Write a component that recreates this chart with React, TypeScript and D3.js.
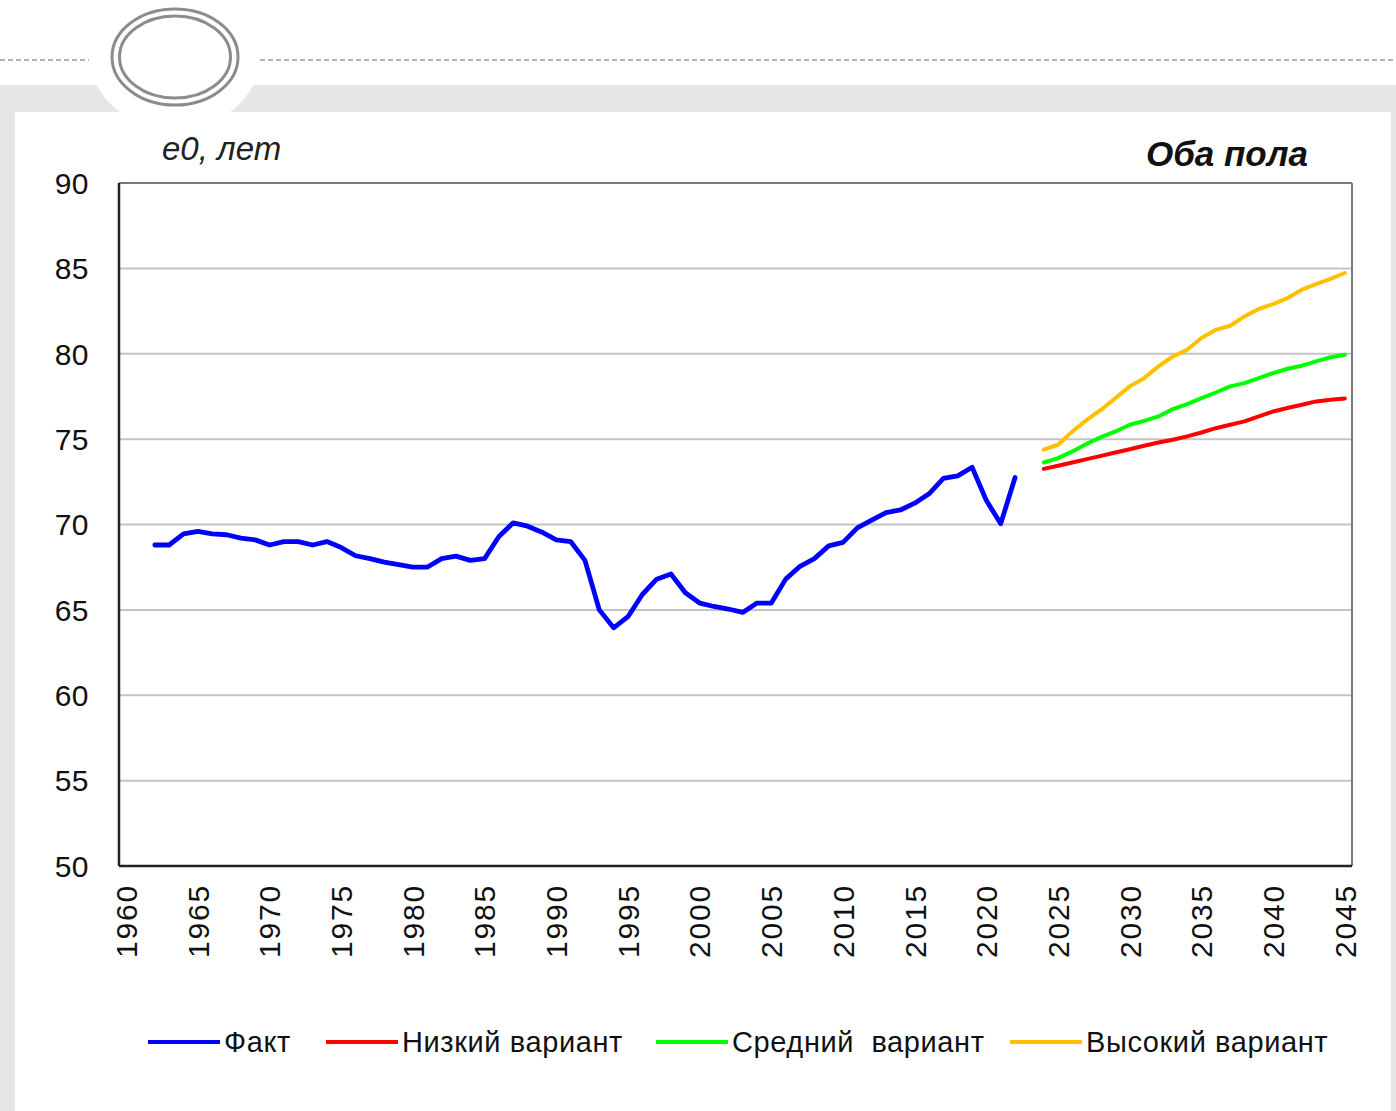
import React from "react";
import * as d3 from "d3";

const years: number[] = d3.range(1960, 2046);
const yTicks: number[] = [50, 55, 60, 65, 70, 75, 80, 85, 90];
const xTickYears: number[] = d3.range(1960, 2046, 5);

const factYears: number[] = d3.range(1962, 2023);
const factValues: number[] = [
  68.8, 68.8, 69.45, 69.6, 69.45, 69.4, 69.2, 69.1, 68.8, 69.0,
  69.0, 68.8, 69.0, 68.65, 68.17, 68.0, 67.8, 67.65, 67.5, 67.5,
  68.0, 68.15, 67.9, 68.0, 69.3, 70.1, 69.9, 69.55, 69.1, 69.0,
  67.9, 65.0, 63.95, 64.6, 65.9, 66.8, 67.1, 66.0, 65.4, 65.2,
  65.05, 64.85, 65.4, 65.4, 66.8, 67.55, 68.0, 68.75, 68.95, 69.8,
  70.25, 70.7, 70.85, 71.25, 71.8, 72.7, 72.85, 73.35, 71.4, 70.05,
  72.75,
];

const fcYears: number[] = d3.range(2024, 2046);
const lowValues: number[] = [
  73.26, 73.44, 73.63, 73.83, 74.02, 74.22, 74.41, 74.61, 74.8, 74.96,
  75.16, 75.39, 75.64, 75.84, 76.04, 76.33, 76.62, 76.82, 77.01, 77.21,
  77.3, 77.38,
];
const midValues: number[] = [
  73.63, 73.89, 74.28, 74.73, 75.12, 75.45, 75.84, 76.07, 76.33, 76.76,
  77.05, 77.4, 77.73, 78.09, 78.28, 78.57, 78.87, 79.12, 79.3, 79.55,
  79.8, 79.94,
];
const highValues: number[] = [
  74.38, 74.67, 75.45, 76.13, 76.72, 77.4, 78.09, 78.57, 79.26, 79.84,
  80.23, 80.92, 81.4, 81.64, 82.19, 82.62, 82.91, 83.26, 83.75, 84.08,
  84.38, 84.73,
];

const legendItems = [
  { label: "Факт", color: "#0000ff" },
  { label: "Низкий вариант", color: "#ff0000" },
  { label: "Средний  вариант", color: "#00ff00" },
  { label: "Высокий вариант", color: "#ffc000" },
];

const W = 1396;
const H = 1111;
const plot = { left: 119, right: 1352, top: 183, bottom: 866 };
const FONT = "'Liberation Sans', Arial, sans-serif";

export default function App() {
  const x = d3
    .scalePoint<number>()
    .domain(years)
    .range([plot.left, plot.right])
    .padding(0.5);
  const y = d3.scaleLinear().domain([50, 90]).range([plot.bottom, plot.top]);

  const line = d3
    .line<[number, number]>()
    .x((d) => x(d[0]) as number)
    .y((d) => y(d[1]));

  const zip = (ys: number[], vs: number[]) =>
    ys.map((yr, i) => [yr, vs[i]] as [number, number]);

  const series = [
    { data: zip(fcYears, lowValues), color: "#ff0000", w: 4 },
    { data: zip(fcYears, midValues), color: "#00ff00", w: 4 },
    { data: zip(fcYears, highValues), color: "#ffc000", w: 4 },
    { data: zip(factYears, factValues), color: "#0000ff", w: 4.8 },
  ];

  const legendX = [148, 326, 656, 1010];

  return (
    <svg
      width={W}
      height={H}
      style={{ position: "absolute", left: 0, top: 0, background: "#fff" }}
      fontFamily={FONT}
    >
      {/* top decoration */}
      <rect x={0} y={0} width={W} height={H} fill="#ffffff" />
      <rect x={0} y={85} width={W} height={H - 85} fill="#e6e6e6" />
      <ellipse cx={175} cy={57} rx={85} ry={72} fill="#ffffff" />
      <line
        x1={0}
        x2={89}
        y1={60}
        y2={60}
        stroke="#9a9a9a"
        strokeWidth={1.3}
        strokeDasharray="5,3"
      />
      <line
        x1={260}
        x2={W}
        y1={60}
        y2={60}
        stroke="#9a9a9a"
        strokeWidth={1.3}
        strokeDasharray="5,3"
      />
      <ellipse cx={175} cy={57} rx={63} ry={48} fill="none" stroke="#8c8c8c" strokeWidth={3} />
      <ellipse cx={175} cy={57} rx={55.5} ry={41} fill="none" stroke="#8c8c8c" strokeWidth={3} />
      <rect x={15} y={112} width={1376} height={H - 112} fill="#ffffff" />

      {/* gridlines */}
      {yTicks
        .filter((t) => t !== 50 && t !== 90)
        .map((t) => (
          <line
            key={t}
            x1={plot.left}
            x2={plot.right}
            y1={y(t)}
            y2={y(t)}
            stroke="#c4c4c4"
            strokeWidth={2}
          />
        ))}

      {/* frame */}
      <line x1={plot.left} x2={plot.right} y1={plot.top} y2={plot.top} stroke="#7a7a7a" strokeWidth={2} />
      <line x1={plot.right} x2={plot.right} y1={plot.top} y2={plot.bottom} stroke="#7a7a7a" strokeWidth={2} />
      <line x1={plot.left} x2={plot.right} y1={plot.bottom} y2={plot.bottom} stroke="#222" strokeWidth={2.5} />
      <line x1={plot.left} x2={plot.left} y1={plot.top} y2={plot.bottom} stroke="#222" strokeWidth={2.5} />

      {/* y tick labels */}
      {yTicks.map((t) => (
        <text
          key={t}
          x={89}
          y={y(t)}
          dy="0.36em"
          textAnchor="end"
          fontSize={30}
          letterSpacing={0.5}
          fill="#111"
        >
          {t}
        </text>
      ))}

      {/* x tick labels */}
      {xTickYears.map((yr) => (
        <text
          key={yr}
          transform={`translate(${x(yr)},${884}) rotate(-90)`}
          dy="0.36em"
          textAnchor="end"
          fontSize={30}
          letterSpacing={1.8}
          fill="#111"
        >
          {yr}
        </text>
      ))}

      {/* series */}
      {series.map((s, i) => (
        <path
          key={i}
          d={line(s.data) || ""}
          fill="none"
          stroke={s.color}
          strokeWidth={s.w}
          strokeLinejoin="round"
          strokeLinecap="round"
        />
      ))}

      {/* titles */}
      <text x={162} y={160} fontSize={33} fontStyle="italic" fill="#222">
        e0, лет
      </text>
      <text
        x={1308}
        y={166}
        fontSize={35}
        fontStyle="italic"
        fontWeight="bold"
        textAnchor="end"
        fill="#111"
      >
        Оба пола
      </text>

      {/* legend */}
      {legendItems.map((it, i) => (
        <g key={it.label} transform={`translate(${legendX[i]},${1042})`}>
          <line x1={0} x2={72} y1={0} y2={0} stroke={it.color} strokeWidth={4} />
          <text
            x={76}
            y={0}
            dy="0.36em"
            fontSize={29}
            letterSpacing={0.6}
            fill="#111"
            style={{ whiteSpace: "pre" }}
          >
            {it.label}
          </text>
        </g>
      ))}
    </svg>
  );
}
